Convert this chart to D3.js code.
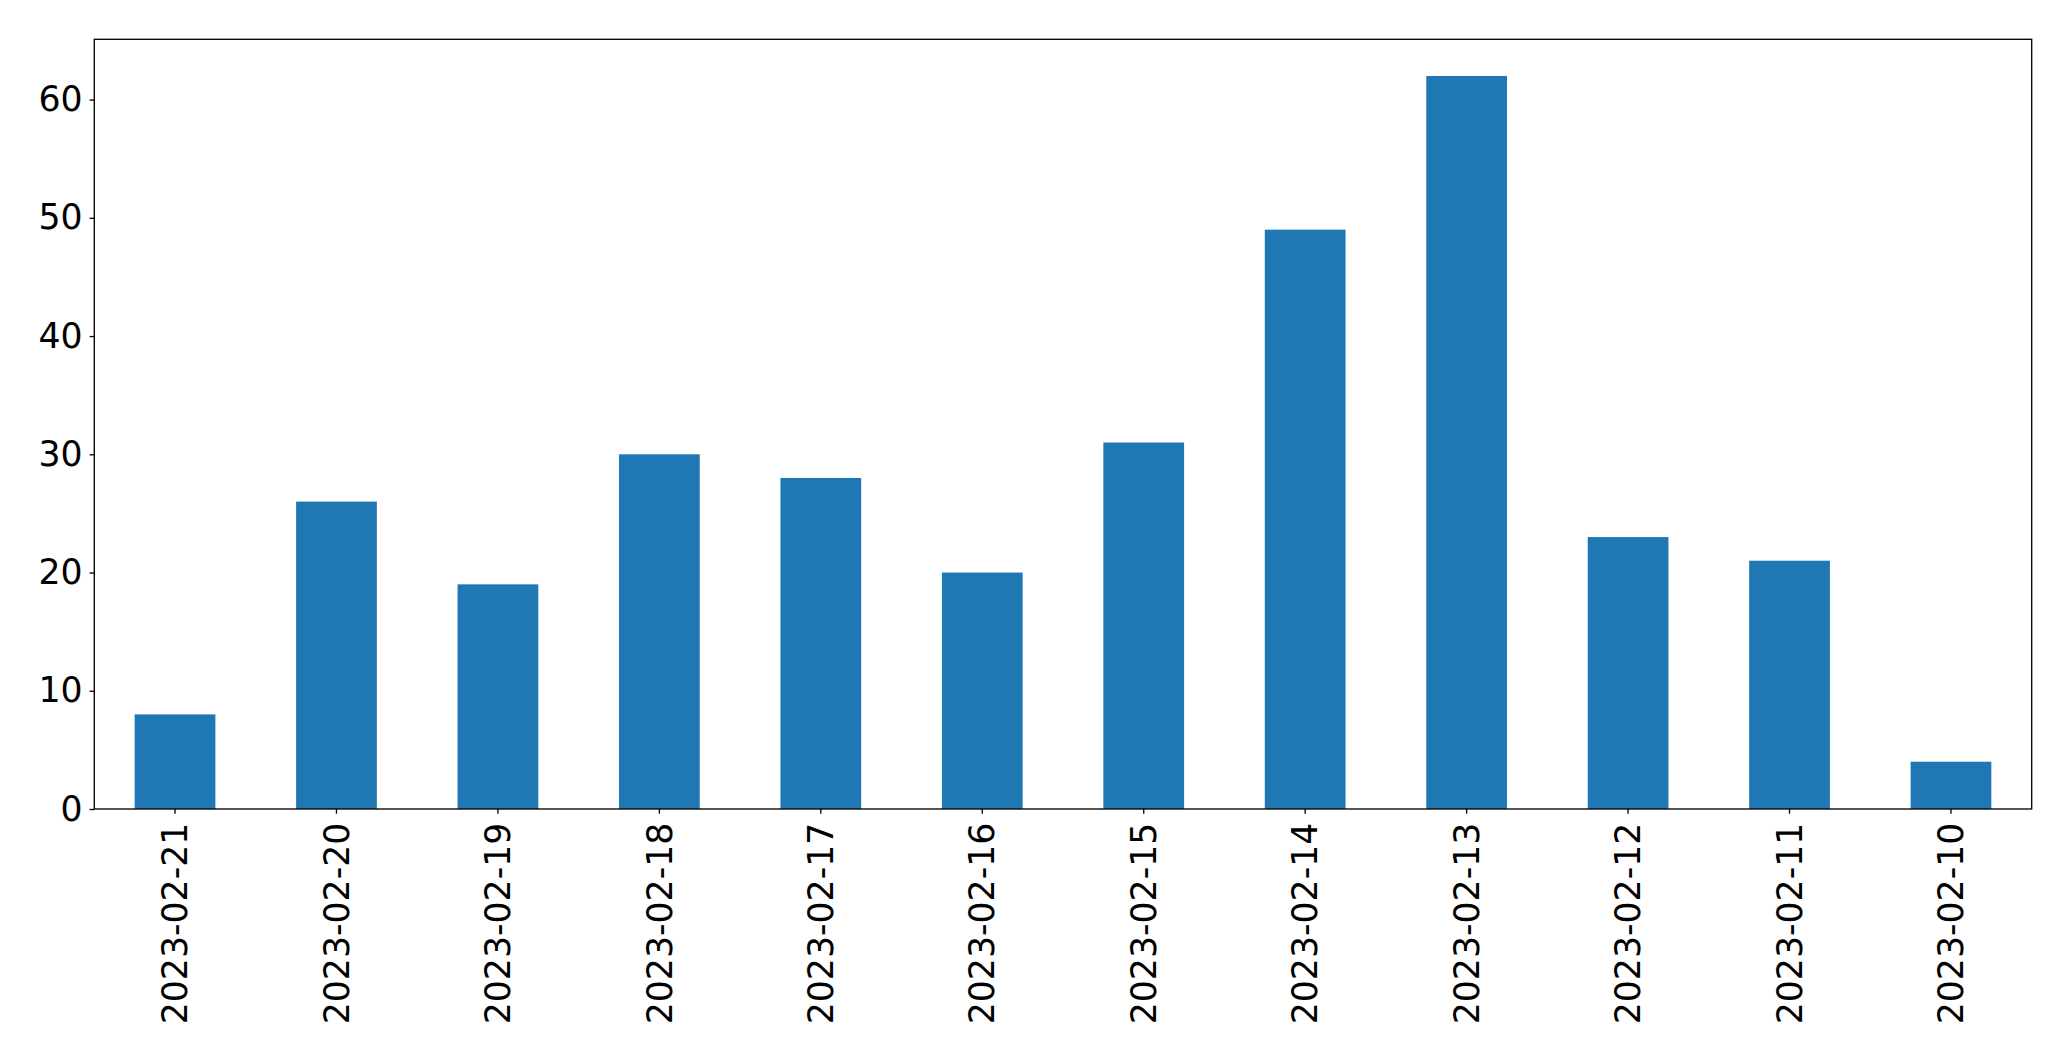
<!DOCTYPE html>
<html>
<head>
<meta charset="utf-8">
<script src="https://cdn.jsdelivr.net/npm/d3@7"></script>
<style>
  html, body { margin: 0; padding: 0; background: #fff; }
  svg { display: block; }
  text { font-family: "DejaVu Sans", sans-serif; }
</style>
</head>
<body>
<svg id="chart" width="2071" height="1061"></svg>
<script>
const categories = ["2023-02-21","2023-02-20","2023-02-19","2023-02-18","2023-02-17","2023-02-16","2023-02-15","2023-02-14","2023-02-13","2023-02-12","2023-02-11","2023-02-10"];
const values = [8, 26, 19, 30, 28, 20, 31, 49, 62, 23, 21, 4];
const yTicks = [0, 10, 20, 30, 40, 50, 60];

const W = 2071, H = 1061;
const m = { left: 94.3, right: 2031.7, top: 39.3, bottom: 809 };
const svg = d3.select("#chart");

const x = d3.scaleBand().domain(categories).range([m.left, m.right]).paddingInner(0.5).paddingOuter(0.25);
const y = d3.scaleLinear().domain([0, d3.max(values) * 1.05]).range([m.bottom, m.top]);

svg.append("g").selectAll("rect").data(values).join("rect")
  .attr("x", (d, i) => x(categories[i]))
  .attr("width", x.bandwidth())
  .attr("y", d => y(d))
  .attr("height", d => y(0) - y(d))
  .attr("fill", "#1f77b4");

const fs = 34.7;
const yAxis = svg.append("g").attr("transform", `translate(${m.left},0)`)
  .call(d3.axisLeft(y).tickValues(yTicks).tickSize(4.7).tickPadding(7).tickFormat(d3.format("d")));
yAxis.select(".domain").remove();
yAxis.selectAll("line").attr("stroke", "#000").attr("stroke-width", 1.33);
yAxis.selectAll("text").attr("font-size", fs).attr("fill", "#000").attr("font-family", "DejaVu Sans");

const xAxis = svg.append("g").attr("transform", `translate(0,${m.bottom})`)
  .call(d3.axisBottom(x).tickSize(4.7).tickPadding(7));
xAxis.select(".domain").remove();
xAxis.selectAll("line").attr("stroke", "#000").attr("stroke-width", 1.33);
xAxis.selectAll("text")
  .attr("font-size", fs).attr("fill", "#000").attr("font-family", "DejaVu Sans")
  .attr("text-anchor", "end")
  .attr("dy", "0.35em")
  .attr("transform", function() { return `translate(0,${4.7 + 9}) rotate(-90)`; })
  .attr("x", 0).attr("y", 0);

svg.append("rect")
  .attr("x", m.left).attr("y", m.top)
  .attr("width", m.right - m.left).attr("height", m.bottom - m.top)
  .attr("fill", "none").attr("stroke", "#000").attr("stroke-width", 1.33);
</script>
</body>
</html>
